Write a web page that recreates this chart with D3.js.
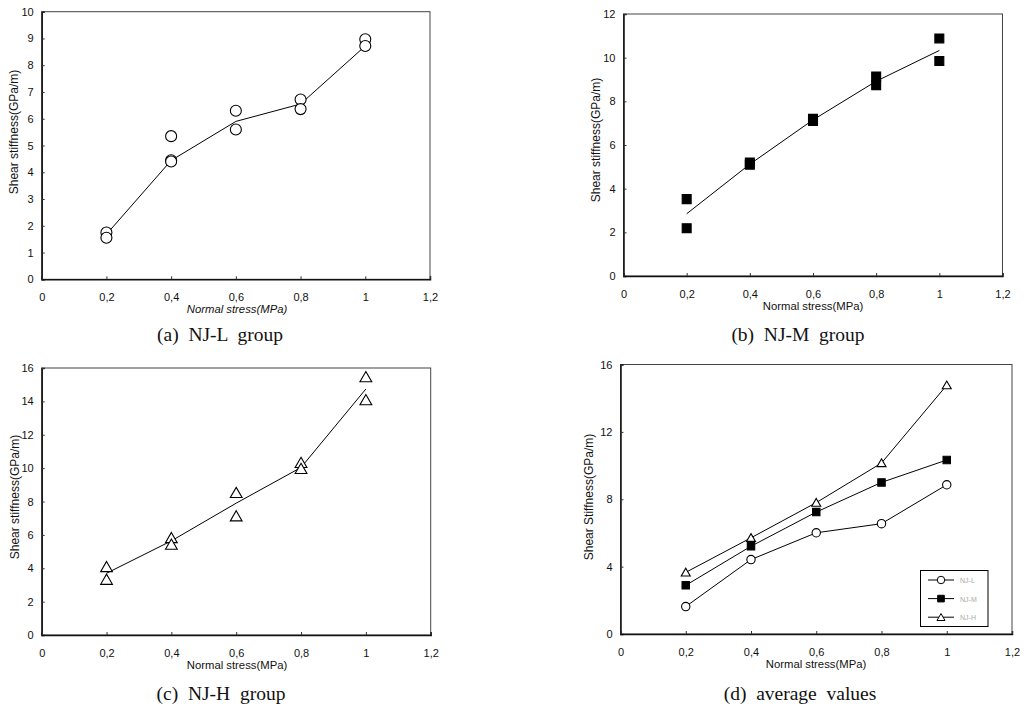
<!DOCTYPE html>
<html><head><meta charset="utf-8">
<script src="https://cdn.jsdelivr.net/npm/d3@7"></script>
<style>
html,body{margin:0;padding:0;background:#fff;}
svg{display:block;}
text{font-family:"Liberation Sans",Arial,sans-serif;fill:#111;}
.cap{font-family:"Liberation Serif","Times New Roman",serif;font-size:19.5px;white-space:pre;}
</style></head>
<body>
<svg id="chart" width="1026" height="709"></svg>
<script>
// ---------- data ----------
const xTickValues = [0, 0.2, 0.4, 0.6, 0.8, 1.0, 1.2];
const xTickLabels = ["0", "0,2", "0,4", "0,6", "0,8", "1", "1,2"];
const stressLevels = [0.2, 0.4, 0.6, 0.8, 1.0];

// (a) NJ-L group: individual tests + connecting line
const njL_x = [0.2, 0.2, 0.4, 0.4, 0.4, 0.6, 0.6, 0.8, 0.8, 1.0, 1.0];
const njL_y = [1.75, 1.55, 5.35, 4.45, 4.40, 6.30, 5.60, 6.72, 6.36, 8.97, 8.72];
const njL_line = [1.68, 4.44, 5.90, 6.55, 8.72];
const njL_yTicks = [0, 1, 2, 3, 4, 5, 6, 7, 8, 9, 10];

// (b) NJ-M group
const njM_x = [0.2, 0.2, 0.4, 0.4, 0.6, 0.6, 0.8, 0.8, 1.0, 1.0];
const njM_y = [3.52, 2.19, 5.20, 5.10, 7.20, 7.10, 9.14, 8.74, 10.88, 9.85];
const njM_line = [2.85, 5.12, 7.15, 8.92, 10.33];
const njM_yTicks = [0, 2, 4, 6, 8, 10, 12];

// (c) NJ-H group
const njH_x = [0.2, 0.2, 0.4, 0.4, 0.6, 0.6, 0.8, 0.8, 1.0, 1.0];
const njH_y = [4.06, 3.30, 5.80, 5.40, 8.50, 7.10, 10.30, 9.94, 15.44, 14.06];
const njH_line = [3.70, 5.64, 7.90, 10.04, 14.74];
const njH_yTicks = [0, 2, 4, 6, 8, 10, 12, 14, 16];

// (d) average values
const avgNames = ["NJ-L", "NJ-M", "NJ-H"];
const avgL = [1.63, 4.42, 6.01, 6.55, 8.86];
const avgM = [2.89, 5.21, 7.24, 9.00, 10.33];
const avgH = [3.66, 5.71, 7.80, 10.15, 14.77];
const avg_yTicks = [0, 4, 8, 12, 16];

const captions = ["(a)  NJ-L  group", "(b)  NJ-M  group", "(c)  NJ-H  group", "(d)  average  values"];

// ---------- drawing ----------
const svg = d3.select("#chart");

function symbolPath(type, size) {
  const t = type === "circle" ? d3.symbolCircle : type === "square" ? d3.symbolSquare : d3.symbolTriangle;
  return d3.symbol().type(t).size(size)();
}

function panel(cfg) {
  const g = svg.append("g");
  const x = d3.scaleLinear().domain([0, 1.2]).range([cfg.left, cfg.right]);
  const y = d3.scaleLinear().domain([0, cfg.yMax]).range([cfg.bottom, cfg.top]);

  // frame
  g.append("rect").attr("x", cfg.left).attr("y", cfg.top)
    .attr("width", cfg.right - cfg.left).attr("height", cfg.bottom - cfg.top)
    .attr("fill", "none").attr("stroke", "#444").attr("stroke-width", 1);

  // y axis
  const ya = d3.axisLeft(y).tickValues(cfg.yTicks).tickSize(-3).tickPadding(8)
    .tickFormat(d3.format("d"));
  const yg = g.append("g").attr("transform", `translate(${cfg.left},0)`).call(ya);
  yg.select(".domain").attr("stroke", "#111").attr("stroke-width", 1.5);
  yg.selectAll(".tick line").attr("stroke", "#333");
  yg.selectAll("text").style("font-size", "11px").attr("fill", "#111")
    .style("font-family", "'Liberation Sans',Arial,sans-serif");

  // x axis
  const xa = d3.axisBottom(x).tickValues(xTickValues).tickSize(-3).tickPadding(14)
    .tickFormat((d, i) => xTickLabels[i]);
  const xg = g.append("g").attr("transform", `translate(0,${cfg.bottom})`).call(xa);
  xg.select(".domain").attr("stroke", "#111").attr("stroke-width", 1.5);
  xg.selectAll(".tick line").attr("stroke", "#333");
  xg.selectAll("text").style("font-size", "11px").attr("fill", "#111")
    .style("font-family", "'Liberation Sans',Arial,sans-serif");

  // titles
  g.append("text").attr("x", cfg.xTitleX).attr("y", cfg.bottom + 34)
    .attr("text-anchor", "middle").style("font-size", "11.3px")
    .style("font-style", cfg.italic ? "italic" : "normal")
    .text("Normal stress(MPa)");
  g.append("text")
    .attr("transform", `translate(${cfg.yTitleX},${cfg.yTitleY}) rotate(-90)`)
    .attr("text-anchor", "middle").style("font-size", "12px")
    .text(cfg.yTitle);

  // caption
  g.append("text").attr("class", "cap").attr("x", cfg.capX).attr("y", cfg.capY)
    .attr("text-anchor", "middle").text(cfg.caption);

  return { g, x, y };
}

function drawMarkers(g, x, y, xs, ys, type, size, filled) {
  g.append("g").selectAll("path").data(xs.map((d, i) => [d, ys[i]])).join("path")
    .attr("d", symbolPath(type, size))
    .attr("transform", d => `translate(${x(d[0])},${y(d[1]) + (type === "triangle" ? 1 : 0)})`)
    .attr("fill", filled ? "#000" : "#fff").attr("stroke", "#000").attr("stroke-width", 1.1);
}

function drawLine(g, x, y, vals) {
  g.append("path").datum(stressLevels.map((d, i) => [d, vals[i]]))
    .attr("d", d3.line().x(d => x(d[0])).y(d => y(d[1])))
    .attr("fill", "none").attr("stroke", "#000").attr("stroke-width", 1);
}

// (a)
{
  const p = panel({ left: 41.7, right: 430, top: 11.7, bottom: 279.3, yMax: 10, yTicks: njL_yTicks,
    yTitle: "Shear stiffness(GPa/m)", yTitleX: 18, yTitleY: 132, xTitleX: 237, italic: true,
    caption: captions[0], capX: 220, capY: 341 });
  drawLine(p.g, p.x, p.y, njL_line);
  drawMarkers(p.g, p.x, p.y, njL_x, njL_y, "circle", 95, false);
}
// (b)
{
  const p = panel({ left: 623.5, right: 1002.5, top: 14, bottom: 276, yMax: 12, yTicks: njM_yTicks,
    yTitle: "Shear stiffness(GPa/m)", yTitleX: 600, yTitleY: 140, xTitleX: 813,
    caption: captions[1], capX: 798, capY: 341 });
  drawLine(p.g, p.x, p.y, njM_line);
  drawMarkers(p.g, p.x, p.y, njM_x, njM_y, "square", 80, true);
}
// (c)
{
  const p = panel({ left: 41.7, right: 430.7, top: 368, bottom: 635, yMax: 16, yTicks: njH_yTicks,
    yTitle: "Shear stiffness(GPa/m)", yTitleX: 19, yTitleY: 497, xTitleX: 237,
    caption: captions[2], capX: 221, capY: 700 });
  drawLine(p.g, p.x, p.y, njH_line);
  drawMarkers(p.g, p.x, p.y, njH_x, njH_y, "triangle", 60, false);
}
// (d)
{
  const p = panel({ left: 620.5, right: 1012, top: 364.5, bottom: 634, yMax: 16, yTicks: avg_yTicks,
    yTitle: "Shear Stiffness(GPa/m)", yTitleX: 593, yTitleY: 497, xTitleX: 816,
    caption: captions[3], capX: 800, capY: 700 });
  const series = [[avgL, "circle", 55, false], [avgM, "square", 55, true], [avgH, "triangle", 35, false]];
  series.forEach(s => {
    drawLine(p.g, p.x, p.y, s[0]);
    drawMarkers(p.g, p.x, p.y, stressLevels, s[0], s[1], s[2], s[3]);
  });
  // legend
  const lg = p.g.append("g");
  lg.append("rect").attr("x", 920.5).attr("y", 570.5).attr("width", 67.5).attr("height", 56)
    .attr("fill", "#fff").attr("stroke", "#000").attr("stroke-width", 1);
  series.forEach((s, i) => {
    const yy = 580 + i * 18.6;
    lg.append("line").attr("x1", 928).attr("x2", 954).attr("y1", yy).attr("y2", yy)
      .attr("stroke", "#000").attr("stroke-width", 1);
    lg.append("path").attr("d", symbolPath(s[1], s[2] * 0.8))
      .attr("transform", `translate(941,${yy + (s[1] === "triangle" ? 1 : 0)})`)
      .attr("fill", s[3] ? "#000" : "#fff").attr("stroke", "#000");
    lg.append("text").attr("x", 960).attr("y", yy + 3).style("font-size", "7px")
      .style("fill", "#aaa").text(avgNames[i]);
  });
}
</script>
</body></html>
